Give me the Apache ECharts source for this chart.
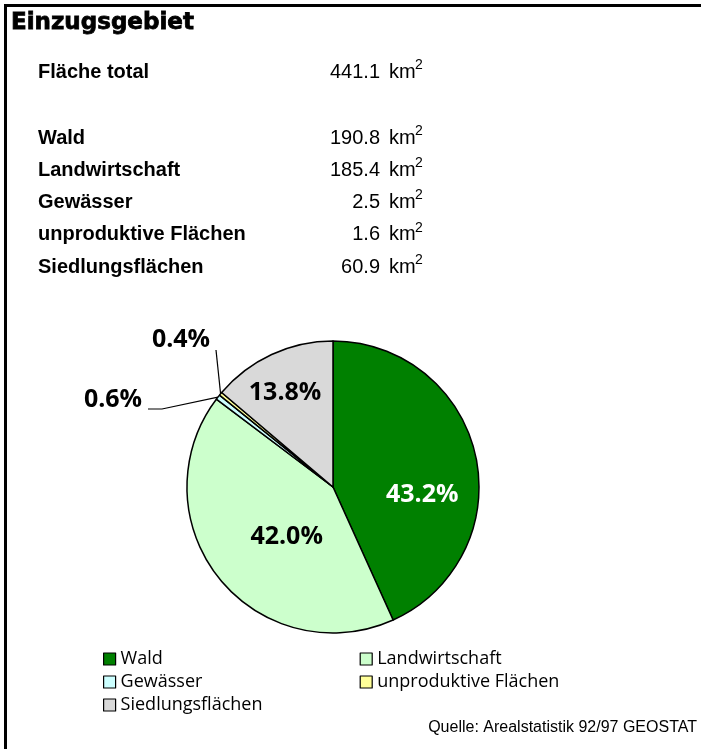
<!DOCTYPE html>
<html>
<head>
<meta charset="utf-8">
<script src="https://cdn.jsdelivr.net/npm/echarts@6/dist/echarts.min.js"></script>
<style>
  html, body { margin: 0; padding: 0; background: #fff; }
  #chart { width: 701px; height: 749px; }
</style>
</head>
<body>
<div id="chart"></div>
<script>
// Flächen im Einzugsgebiet (km2)
const categories = ["Wald", "Landwirtschaft", "Gewässer", "unproduktive Flächen", "Siedlungsflächen"];
const areaKm2 = [190.8, 185.4, 2.5, 1.6, 60.9];
const totalKm2 = 441.1;
const sliceColors = ["#008000", "#CCFFCC", "#CCFFFF", "#FFFF99", "#D9D9D9"];

const tableFont = "'Liberation Sans', Arial, sans-serif";
const labelFont = "'Open Sans', 'Noto Sans', sans-serif";

// nudges for the inside labels, Excel puts them off-centre
const labelNudge = [[15, 24], [13, 2], null, null, [-16, -25]];
// small slices get their label outside with a bent leader
const outerLabels = {
  2: { x: 113, y: 400, bend: [[162, 409], [148, 409]] },
  3: { x: 181, y: 340, bend: [[216, 350]] }
};

function tableRow(name, value, y) {
  return [
    { type: "text", x: 38, y: y, style: { text: name, font: "bold 20px " + tableFont, fill: "#000", verticalAlign: "middle" } },
    { type: "text", x: 380, y: y, style: { text: value.toFixed(1), font: "20px " + tableFont, fill: "#000", align: "right", verticalAlign: "middle" } },
    { type: "text", x: 389, y: y, style: { text: "km", font: "20px " + tableFont, fill: "#000", verticalAlign: "middle" } },
    { type: "text", x: 415, y: y - 14, style: { text: "2", font: "14px " + tableFont, fill: "#000", verticalAlign: "top" } }
  ];
}

const graphics = [
  { type: "rect", shape: { x: 4, y: 4, width: 3, height: 745 }, style: { fill: "#000" } },
  { type: "rect", shape: { x: 4, y: 4, width: 697, height: 3 }, style: { fill: "#000" } },
  { type: "text", x: 11, y: 23, style: { text: "Einzugsgebiet", font: "bold 23px 'DejaVu Sans', sans-serif", fill: "#000", stroke: "#000", lineWidth: 0.8, verticalAlign: "middle" } },
  { type: "text", x: 697, y: 728, style: { text: "Quelle: Arealstatistik 92/97 GEOSTAT", font: "16px " + tableFont, fill: "#000", align: "right", verticalAlign: "middle" } }
].concat(tableRow("Fläche total", totalKm2, 72));

categories.forEach(function (c, i) {
  graphics.push.apply(graphics, tableRow(c, areaKm2[i], 138 + i * 32.3));
});

const chart = echarts.init(document.getElementById("chart"));
chart.setOption({
  animation: false,
  color: sliceColors,
  graphic: graphics,
  legend: {
    data: categories,
    left: 103,
    top: 650,
    width: 520,
    padding: 0,
    itemWidth: 12,
    itemHeight: 12,
    itemGap: 5,
    selectedMode: false,
    icon: "rect",
    itemStyle: { borderColor: "#000", borderWidth: 1.2 },
    textStyle: { fontFamily: labelFont, fontSize: 18, color: "#000", width: 234, lineHeight: 18 }
  },
  series: [{
    type: "pie",
    center: [333, 487],
    radius: 146,
    startAngle: 90,
    clockwise: true,
    avoidLabelOverlap: false,
    percentPrecision: 1,
    itemStyle: { borderColor: "#000", borderWidth: 1.5 },
    emphasis: { disabled: true },
    label: {
      position: "inside",
      fontFamily: labelFont,
      fontWeight: "bold",
      fontSize: 25,
      color: "#000",
      formatter: function (p) { return p.percent.toFixed(1) + "%"; }
    },
    labelLine: { show: false },
    labelLayout: function (p) {
      const o = outerLabels[p.dataIndex];
      if (o) {
        const start = p.labelLinePoints ? p.labelLinePoints[0] : [220, 397];
        return { x: o.x, y: o.y, align: "center", verticalAlign: "middle", labelLinePoints: [start].concat(o.bend) };
      }
      const n = labelNudge[p.dataIndex];
      return { dx: n[0], dy: n[1] };
    },
    data: categories.map(function (c, i) {
      const d = { name: c, value: areaKm2[i] };
      if (i === 0) d.label = { color: "#fff" };
      if (outerLabels[i]) {
        d.label = { position: "outside" };
        d.labelLine = { show: true, length: 10, length2: 10, lineStyle: { color: "#000", width: 1.2 } };
      }
      return d;
    })
  }]
});
</script>
</body>
</html>
